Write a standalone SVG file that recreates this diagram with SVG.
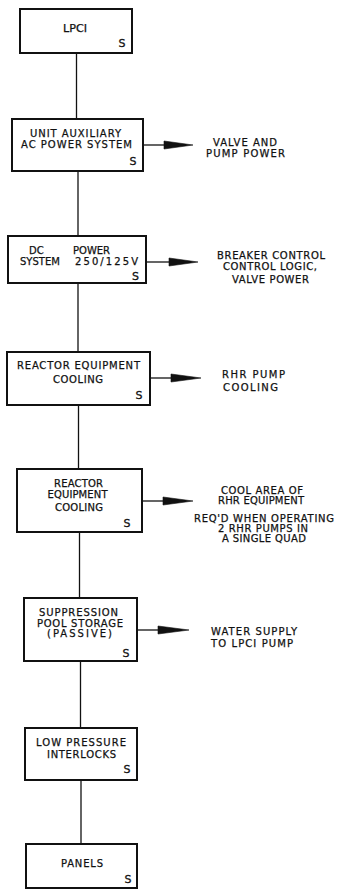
<svg xmlns="http://www.w3.org/2000/svg" width="339" height="890" viewBox="0 0 339 890">
<style>
  .box { fill: #fff; stroke: #111; stroke-width: 2; }
  .t { font-family: "DejaVu Sans", "Liberation Sans", sans-serif; font-size: 10px; fill: #111; stroke: #111; stroke-width: 0.25; text-anchor: middle; }
  .l { font-family: "DejaVu Sans", "Liberation Sans", sans-serif; font-size: 10px; fill: #111; stroke: #111; stroke-width: 0.25; }
  .s { font-family: "DejaVu Sans", "Liberation Sans", sans-serif; font-size: 11px; fill: #111; stroke: #111; stroke-width: 0.3; text-anchor: middle; }
  .c { stroke: #111; stroke-width: 1.3; fill: none; }
  .ah { fill: #111; stroke: #111; stroke-width: 0.6; }
</style>
<rect width="339" height="890" fill="#fff"/>
<g id="connectors">
  <line class="c" x1="76.5" y1="53" x2="76.5" y2="119"/>
  <line class="c" x1="78" y1="171" x2="78" y2="236"/>
  <line class="c" x1="78" y1="283" x2="78" y2="352"/>
  <line class="c" x1="78.5" y1="405" x2="78.5" y2="469"/>
  <line class="c" x1="79.5" y1="532" x2="79.5" y2="598"/>
  <line class="c" x1="80.5" y1="661" x2="80.5" y2="728"/>
  <line class="c" x1="81" y1="780" x2="81" y2="844"/>
  <line class="c" x1="143" y1="145" x2="164" y2="145"/>
  <polygon class="ah" points="164,141 193,145 164,149"/>
  <line class="c" x1="146" y1="262" x2="169" y2="262"/>
  <polygon class="ah" points="169,258 198,262 169,266"/>
  <line class="c" x1="150" y1="378" x2="171" y2="378"/>
  <polygon class="ah" points="171,374 201,378 171,382"/>
  <line class="c" x1="142" y1="501" x2="163" y2="501"/>
  <polygon class="ah" points="163,497 193,501 163,505"/>
  <line class="c" x1="137" y1="630" x2="158" y2="630"/>
  <polygon class="ah" points="158,626 189,630 158,634"/>
</g>
<g id="lpci">
  <rect class="box" x="20" y="9" width="112" height="44"/>
  <text class="t" x="75" y="32" textLength="24" lengthAdjust="spacingAndGlyphs">LPCI</text>
  <text class="s" x="122" y="47">S</text>
</g>
<g id="unit-aux">
  <rect class="box" x="12" y="119" width="131" height="52"/>
  <text class="t" x="75.5" y="137" textLength="91" lengthAdjust="spacing">UNIT AUXILIARY</text>
  <text class="t" x="76.5" y="148" textLength="111" lengthAdjust="spacing">AC POWER SYSTEM</text>
  <text class="s" x="133" y="165">S</text>
</g>
<g id="unit-aux-label">
  <text class="t" x="245" y="146" textLength="64" lengthAdjust="spacing">VALVE AND</text>
  <text class="t" x="245.5" y="157" textLength="79" lengthAdjust="spacing">PUMP POWER</text>
</g>
<g id="dc-power">
  <rect class="box" x="8" y="236" width="138" height="47"/>
  <text class="l" y="254"><tspan x="29">DC</tspan><tspan x="73">POWER</tspan></text>
  <text class="l" y="265"><tspan x="20">SYSTEM</tspan><tspan x="75" textLength="63" lengthAdjust="spacing">250/125V</tspan></text>
  <text class="s" x="135.5" y="280">S</text>
</g>
<g id="dc-power-label">
  <text class="t" x="271" y="259" textLength="108" lengthAdjust="spacing">BREAKER CONTROL</text>
  <text class="t" x="270" y="270" textLength="94" lengthAdjust="spacing">CONTROL LOGIC,</text>
  <text class="t" x="270.5" y="283" textLength="77" lengthAdjust="spacing">VALVE POWER</text>
</g>
<g id="rec-1">
  <rect class="box" x="7" y="352" width="143" height="53"/>
  <text class="t" x="78.5" y="369" textLength="123" lengthAdjust="spacing">REACTOR EQUIPMENT</text>
  <text class="t" x="78" y="383" textLength="50" lengthAdjust="spacing">COOLING</text>
  <text class="s" x="139" y="399">S</text>
</g>
<g id="rec-1-label">
  <text class="t" x="253.5" y="378" textLength="63" lengthAdjust="spacing">RHR PUMP</text>
  <text class="t" x="250.5" y="391" textLength="55" lengthAdjust="spacing">COOLING</text>
</g>
<g id="rec-2">
  <rect class="box" x="17" y="469" width="125" height="63"/>
  <text class="t" x="78.5" y="487" textLength="49" lengthAdjust="spacing">REACTOR</text>
  <text class="t" x="77.5" y="498" textLength="60" lengthAdjust="spacing">EQUIPMENT</text>
  <text class="t" x="79" y="511" textLength="48" lengthAdjust="spacing">COOLING</text>
  <text class="s" x="127" y="527">S</text>
</g>
<g id="rec-2-label">
  <text class="t" x="262" y="494" textLength="82" lengthAdjust="spacing">COOL AREA OF</text>
  <text class="t" x="261" y="504" textLength="86" lengthAdjust="spacing">RHR EQUIPMENT</text>
  <text class="t" x="264" y="522" textLength="140" lengthAdjust="spacing">REQ'D WHEN OPERATING</text>
  <text class="t" x="263" y="532" textLength="90" lengthAdjust="spacing">2 RHR PUMPS IN</text>
  <text class="t" x="264" y="542" textLength="84" lengthAdjust="spacing">A SINGLE QUAD</text>
</g>
<g id="suppression-pool">
  <rect class="box" x="24" y="598" width="113" height="63"/>
  <text class="t" x="78.5" y="616" textLength="79" lengthAdjust="spacing">SUPPRESSION</text>
  <text class="t" x="80" y="627" textLength="86" lengthAdjust="spacing">POOL STORAGE</text>
  <text class="t" x="79.5" y="637" textLength="65" lengthAdjust="spacing">(PASSIVE)</text>
  <text class="s" x="126" y="657">S</text>
</g>
<g id="suppression-pool-label">
  <text class="l" x="211" y="635" textLength="86" lengthAdjust="spacing">WATER SUPPLY</text>
  <text class="l" x="211" y="647" textLength="82" lengthAdjust="spacing">TO LPCI PUMP</text>
</g>
<g id="low-pressure">
  <rect class="box" x="25" y="728" width="112" height="52"/>
  <text class="t" x="81" y="746" textLength="90" lengthAdjust="spacing">LOW PRESSURE</text>
  <text class="t" x="81.5" y="758" textLength="69" lengthAdjust="spacing">INTERLOCKS</text>
  <text class="s" x="127" y="773">S</text>
</g>
<g id="panels">
  <rect class="box" x="26" y="844" width="111" height="44"/>
  <text class="t" x="82" y="867" textLength="42" lengthAdjust="spacing">PANELS</text>
  <text class="s" x="128" y="883">S</text>
</g>
</svg>
